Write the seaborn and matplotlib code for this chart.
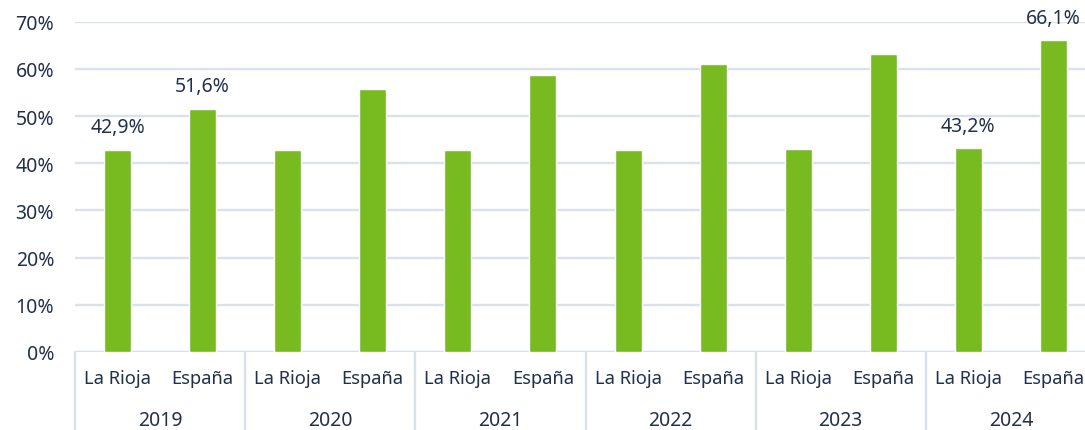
import pandas as pd
import matplotlib
matplotlib.use("Agg")
import matplotlib.pyplot as plt
import matplotlib.transforms as mtransforms
import seaborn as sns

years = ["2019", "2020", "2021", "2022", "2023", "2024"]
regions = ["La Rioja", "España"]
la_rioja = [42.9, 42.9, 42.9, 42.9, 43.1, 43.2]
espana = [51.6, 55.8, 58.6, 61.1, 63.2, 66.1]
labelled = ["2019", "2024"]

rows = []
for i, yr in enumerate(years):
    rows.append({"key": yr + " La Rioja", "year": yr, "region": "La Rioja", "valor": la_rioja[i]})
    rows.append({"key": yr + " España", "year": yr, "region": "España", "valor": espana[i]})
df = pd.DataFrame(rows)

text_col = "#23304a"
grid_col = "#d9e2ea"
bar_col = "#77bb21"

sns.set_style("white")
plt.rcParams["font.family"] = ["Noto Sans", "DejaVu Sans"]

fig = plt.figure(figsize=(10.85, 4.31), dpi=100)
W, H = 1085, 431
ax = fig.add_axes([75 / W, (H - 353) / H, (1096 - 75) / W, (353 - 22.7) / H])

sns.barplot(data=df, x="key", y="valor", color=bar_col, width=0.317,
            saturation=1, ax=ax, zorder=3)

ax.set_ylim(0, 70)
ax.set_xlim(-0.5, len(df) - 0.5)
ax.set_yticks(range(0, 71, 10))
ax.set_yticklabels([f"{v}%" for v in range(0, 71, 10)])
ax.yaxis.grid(True, color=grid_col, linewidth=1.7, zorder=0)
ax.xaxis.grid(False)
for s in ax.spines.values():
    s.set_visible(False)
ax.axhline(0, color=grid_col, linewidth=1.7, zorder=1)

ax.set_xticks(range(len(df)))
ax.set_xticklabels(df["region"])
ax.tick_params(axis="x", length=0, pad=12, labelsize=13.2, labelcolor=text_col)
ax.tick_params(axis="y", length=0, pad=15, labelsize=14, labelcolor=text_col)
ax.set_xlabel("")
ax.set_ylabel("")

# separators and year labels under the axis
trans = mtransforms.blended_transform_factory(ax.transData, ax.transAxes)
for i, yr in enumerate(years):
    x0 = 2 * i - 0.5
    ax.plot([x0, x0], [0, -0.25], transform=trans, color=grid_col,
            linewidth=1.7, clip_on=False)
    ax.text(2 * i + 0.5, -0.205, yr, transform=trans, ha="center", va="center",
            fontsize=14, color=text_col)
ax.plot([2 * len(years) - 0.5] * 2, [0, -0.25], transform=trans, color=grid_col,
        linewidth=1.7, clip_on=False)

# value labels
for idx, r in df.iterrows():
    if r["year"] in labelled:
        ax.annotate(f"{r['valor']:.1f}%".replace(".", ","), (idx, r["valor"]),
                    xytext=(0, 9), textcoords="offset points", ha="center",
                    va="bottom", fontsize=14, color=text_col)

fig.savefig("out.png", dpi=100)
